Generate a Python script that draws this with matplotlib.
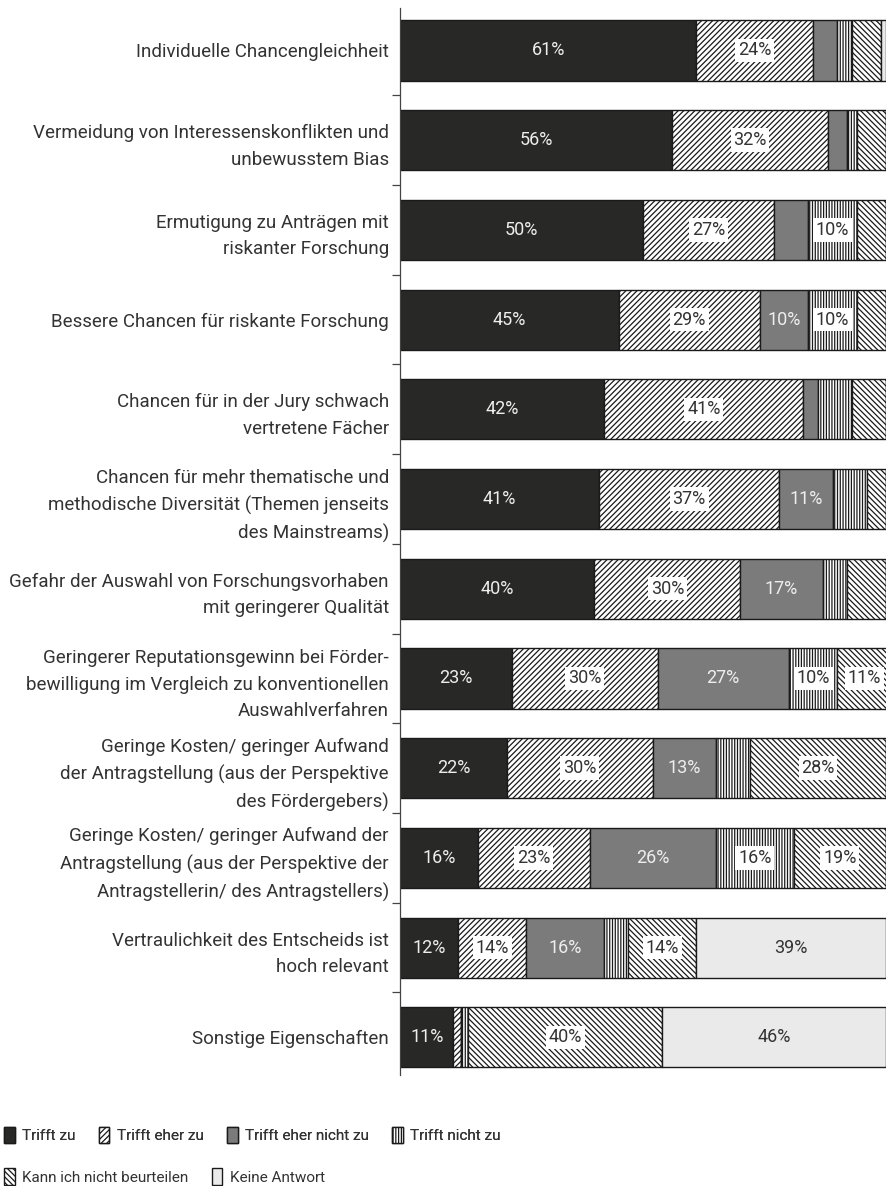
import numpy as np
import matplotlib
matplotlib.use('Agg')
import matplotlib.pyplot as plt
from matplotlib.patches import Patch

# data (percent of respondents)
categories = [
    'Individuelle Chancengleichheit',
    'Vermeidung von Interessenskonflikten und\nunbewusstem Bias',
    'Ermutigung zu Anträgen mit\nriskanter Forschung',
    'Bessere Chancen für riskante Forschung',
    'Chancen für in der Jury schwach\nvertretene Fächer',
    'Chancen für mehr thematische und\nmethodische Diversität (Themen jenseits\ndes Mainstreams)',
    'Gefahr der Auswahl von Forschungsvorhaben\nmit geringerer Qualität',
    'Geringerer Reputationsgewinn bei Förder-\nbewilligung im Vergleich zu konventionellen\nAuswahlverfahren',
    'Geringe Kosten/ geringer Aufwand\nder Antragstellung (aus der Perspektive\ndes Fördergebers)',
    'Geringe Kosten/ geringer Aufwand der\nAntragstellung (aus der Perspektive der\nAntragstellerin/ des Antragstellers)',
    'Vertraulichkeit des Entscheids ist\nhoch relevant',
    'Sonstige Eigenschaften',
]
trifft_zu = [61, 56, 50, 45, 42, 41, 40, 23, 22, 16, 12, 11]
trifft_eher_zu = [24, 32, 27, 29, 41, 37, 30, 30, 30, 23, 14, 1.5]
trifft_eher_nicht_zu = [5, 4, 7, 10, 3, 11, 17, 27, 13, 26, 16, 0]
trifft_nicht_zu = [3, 2, 10, 10, 7, 7, 5, 10, 7, 16, 5, 1.5]
kann_nicht_beurteilen = [6, 6, 6, 6, 7, 4, 8, 11, 28, 19, 14, 40]
keine_antwort = [1, 0, 0, 0, 0, 0, 0, 0, 0, 0, 39, 46]

series_names = ['Trifft zu', 'Trifft eher zu', 'Trifft eher nicht zu',
                'Trifft nicht zu', 'Kann ich nicht beurteilen', 'Keine Antwort']
series_values = [trifft_zu, trifft_eher_zu, trifft_eher_nicht_zu,
                 trifft_nicht_zu, kann_nicht_beurteilen, keine_antwort]

# style per series: facecolor, hatch, label text colour, white box behind label
styles = [
    ('#282826', None, '#eeeeee', False),
    ('white', '//////', '#333333', True),
    ('#7b7b7b', None, '#eeeeee', False),
    ('white', '||||||', '#333333', True),
    ('white', '\\\\\\\\\\\\', '#333333', True),
    ('#e9eae9', None, '#333333', False),
]

plt.rcParams['font.family'] = ['Roboto', 'DejaVu Sans']
plt.rcParams['hatch.linewidth'] = 0.9

fig = plt.figure(figsize=(8.86, 11.86), dpi=100)
ax = fig.add_axes([0.4515, 0.0936, 0.5485, 0.8994])

y = np.arange(len(categories))
left = np.zeros(len(categories))
for name, vals, (fc, hatch, tc, box) in zip(series_names, series_values, styles):
    vals = np.array(vals, dtype=float)
    ax.barh(y, vals, left=left, height=0.67, color=fc, hatch=hatch,
            edgecolor='#1a1a1a', linewidth=1.0, label=name)
    for yi, (l, v) in enumerate(zip(left, vals)):
        if v >= 10:
            kw = {}
            if box:
                kw['bbox'] = dict(facecolor='white', edgecolor='none', pad=2.0)
            ax.text(l + v / 2, yi, f'{v:.0f}%', ha='center', va='center',
                    color=tc, fontsize=13, **kw)
    left += vals

ax.set_xlim(0, 100)
ax.set_ylim(11.42, -0.47)
ax.set_yticks(y)
ax.set_yticklabels(categories, fontsize=13.5, color='#333333', linespacing=1.6)
ax.set_yticks(np.arange(0.5, 11, 1), minor=True)
ax.tick_params(axis='y', which='major', length=0, pad=8)
ax.tick_params(axis='y', which='minor', length=6, width=0.9, color='#444444')
ax.set_xticks([])
for s in ['top', 'right', 'bottom']:
    ax.spines[s].set_visible(False)
ax.spines['left'].set_color('#444444')
ax.spines['left'].set_linewidth(0.9)

handles = [Patch(facecolor=fc, hatch=h, edgecolor='#1a1a1a', linewidth=1.0, label=n)
           for n, (fc, h, tc, b) in zip(series_names, styles)]
leg_kw = dict(loc='center left', frameon=False, handlelength=0.7, handleheight=1.3,
              handletextpad=0.5, columnspacing=1.5, borderpad=0,
              prop={'size': 11}, labelcolor='#333333')
leg1 = fig.legend(handles=handles[:4], bbox_to_anchor=(-0.004, 0.043), ncol=4, **leg_kw)
leg2 = fig.legend(handles=handles[4:], bbox_to_anchor=(-0.004, 0.008), ncol=2, **leg_kw)
fig.add_artist(leg1)

fig.savefig('out.png', dpi=100)
